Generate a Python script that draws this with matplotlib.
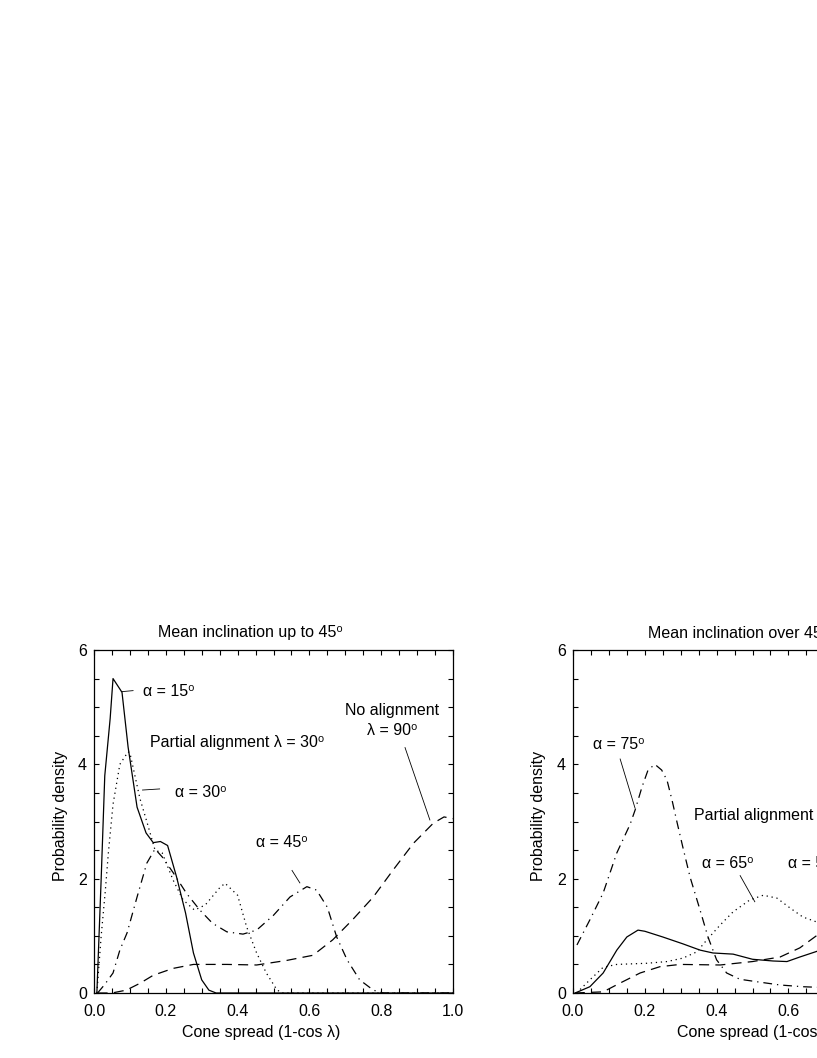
import matplotlib
matplotlib.use("Agg")
import matplotlib.pyplot as plt
from matplotlib.ticker import MultipleLocator

plt.rcParams['font.family'] = ['Liberation Sans', 'DejaVu Sans']
FS = 11.5

# ---------------- data: left panel (mean inclination up to 45) ----------------
L_a15_x = [0.008, 0.02, 0.03, 0.045, 0.053, 0.078, 0.095, 0.12, 0.145, 0.165, 0.185,
           0.205, 0.23, 0.255, 0.277, 0.30, 0.32, 0.34, 1.0]
L_a15_y = [0.0, 2.0, 3.8, 4.8, 5.5, 5.26, 4.3, 3.25, 2.8, 2.63, 2.65,
           2.58, 2.03, 1.4, 0.7, 0.23, 0.05, 0.0, 0.0]

L_a30_x = [0.008, 0.02, 0.031, 0.04, 0.053, 0.072, 0.095, 0.10, 0.128, 0.147, 0.17,
           0.19, 0.22, 0.248, 0.28, 0.31, 0.35, 0.365, 0.40, 0.425, 0.453, 0.48,
           0.51, 0.527, 1.0]
L_a30_y = [0.0, 1.0, 1.75, 2.45, 3.3, 4.0, 4.22, 4.2, 3.4, 3.0, 2.5,
           2.45, 1.98, 1.63, 1.45, 1.54, 1.84, 1.92, 1.71, 1.16, 0.7, 0.35,
           0.05, 0.0, 0.0]

L_a45_x = [0.01, 0.03, 0.053, 0.072, 0.092, 0.12, 0.147, 0.17, 0.19, 0.22, 0.258,
           0.295, 0.33, 0.37, 0.415, 0.453, 0.50, 0.546, 0.593, 0.62, 0.65, 0.676,
           0.705, 0.74, 0.778, 0.805, 1.0]
L_a45_y = [0.0, 0.15, 0.35, 0.75, 1.05, 1.68, 2.27, 2.52, 2.38, 2.11, 1.74,
           1.45, 1.22, 1.07, 1.03, 1.1, 1.36, 1.68, 1.86, 1.80, 1.5, 0.98,
           0.58, 0.23, 0.05, 0.0, 0.0]

L_none_x = [0.01, 0.05, 0.09, 0.128, 0.165, 0.22, 0.277, 0.37, 0.453, 0.537, 0.61,
            0.665, 0.72, 0.778, 0.833, 0.89, 0.945, 0.975, 1.0]
L_none_y = [0.0, 0.0, 0.05, 0.17, 0.31, 0.43, 0.5, 0.5, 0.49, 0.57, 0.66,
            0.93, 1.28, 1.68, 2.15, 2.62, 2.97, 3.08, 3.05]

# ---------------- data: right panel (mean inclination over 45) ----------------
R_a75_x = [0.011, 0.047, 0.084, 0.122, 0.159, 0.173, 0.192, 0.209, 0.228, 0.247,
           0.262, 0.276, 0.29, 0.306, 0.326, 0.354, 0.376, 0.40, 0.428, 0.465,
           0.52, 0.577, 0.64, 0.68, 0.80, 1.0]
R_a75_y = [0.84, 1.28, 1.75, 2.45, 2.95, 3.2, 3.6, 3.9, 4.0, 3.9,
           3.72, 3.37, 2.98, 2.55, 2.03, 1.45, 0.98, 0.58, 0.35, 0.24,
           0.19, 0.14, 0.11, 0.10, 0.07, 0.03]

R_sol_x = [0.006, 0.047, 0.084, 0.122, 0.15, 0.181, 0.20, 0.25, 0.306, 0.354, 0.39,
           0.446, 0.50, 0.557, 0.596, 0.632, 0.68, 0.75, 0.85, 1.0]
R_sol_y = [0.0, 0.11, 0.35, 0.75, 0.98, 1.1, 1.08, 0.98, 0.86, 0.75, 0.7,
           0.68, 0.59, 0.56, 0.55, 0.63, 0.73, 0.95, 1.1, 1.0]

R_a65_x = [0.01, 0.047, 0.084, 0.122, 0.206, 0.262, 0.306, 0.345, 0.373, 0.41,
           0.446, 0.493, 0.53, 0.568, 0.604, 0.64, 0.68, 0.75, 0.85, 0.95, 1.0]
R_a65_y = [0.0, 0.23, 0.45, 0.5, 0.52, 0.55, 0.61, 0.72, 0.93, 1.19,
           1.42, 1.63, 1.71, 1.66, 1.49, 1.33, 1.24, 1.1, 0.6, 0.15, 0.0]

R_none_x = [0.005, 0.084, 0.13, 0.187, 0.242, 0.298, 0.41, 0.50, 0.577, 0.632,
            0.68, 0.72, 0.778, 0.833, 0.89, 0.945, 0.975, 1.0]
R_none_y = [0.0, 0.02, 0.17, 0.35, 0.46, 0.5, 0.49, 0.55, 0.63, 0.79,
            1.01, 1.28, 1.68, 2.15, 2.62, 2.97, 3.08, 3.05]

x_ticks = [0.0, 0.2, 0.4, 0.6, 0.8, 1.0]
x_ticklabels = ["0.0", "0.2", "0.4", "0.6", "0.8", "1.0"]
y_ticks = [0, 2, 4, 6]
y_ticklabels = ["0", "2", "4", "6"]

# ---------------- figure ----------------
W, H = 817, 1058
fig = plt.figure(figsize=(W / 100, H / 100), dpi=100)


def px_axes(x0, y0, x1, y1):
    return fig.add_axes([x0 / W, 1 - y1 / H, (x1 - x0) / W, (y1 - y0) / H])


def ftext(x, y, s, **kw):
    fig.text(x / W, 1 - y / H, s, fontsize=FS, **kw)


LW = 0.9
styles = {
    'solid': dict(linestyle='-'),
    'dot': dict(linestyle=(0, (1, 3))),
    'dashdot': dict(linestyle=(0, (7, 4, 1, 4))),
    'dash': dict(linestyle=(0, (8, 5))),
}


def setup(ax):
    ax.set_xlim(0, 1.0)
    ax.set_ylim(0, 6)
    ax.set_xticks(x_ticks)
    ax.set_xticklabels(x_ticklabels)
    ax.set_yticks(y_ticks)
    ax.set_yticklabels(y_ticklabels)
    ax.xaxis.set_minor_locator(MultipleLocator(0.05))
    ax.yaxis.set_minor_locator(MultipleLocator(0.5))
    ax.tick_params(which='both', direction='in', top=True, right=True,
                   length=3.5, width=0.8, labelsize=FS)
    ax.tick_params(axis='x', pad=8)
    ax.tick_params(axis='y', pad=5)
    for s in ax.spines.values():
        s.set_linewidth(0.9)


def annot_line(ax, x0, y0, x1, y1):
    ax.plot([x0, x1], [y0, y1], color='black', lw=0.6, solid_capstyle='butt')


# left panel
axL = px_axes(94, 650, 453, 993)
setup(axL)
axL.plot(L_a15_x, L_a15_y, color='black', lw=LW, **styles['solid'])
axL.plot(L_a30_x, L_a30_y, color='black', lw=LW, **styles['dot'])
axL.plot(L_a45_x, L_a45_y, color='black', lw=LW, **styles['dashdot'])
axL.plot(L_none_x, L_none_y, color='black', lw=LW, **styles['dash'])
axL.text(0.136, 5.28, "α = 15⁰", fontsize=FS, va='center', ha='left')
annot_line(axL, 0.075, 5.27, 0.11, 5.29)
axL.text(0.156, 4.39, "Partial alignment λ = 30⁰", fontsize=FS, va='center', ha='left')
axL.text(0.226, 3.5, "α = 30⁰", fontsize=FS, va='center', ha='left')
annot_line(axL, 0.134, 3.55, 0.184, 3.57)
axL.text(0.83, 4.95, "No alignment", fontsize=FS, va='center', ha='center')
axL.text(0.83, 4.6, "λ = 90⁰", fontsize=FS, va='center', ha='center')
annot_line(axL, 0.866, 4.3, 0.936, 3.02)
axL.text(0.524, 2.64, "α = 45⁰", fontsize=FS, va='center', ha='center')
annot_line(axL, 0.551, 2.15, 0.574, 1.92)

ftext(158, 633, "Mean inclination up to 45⁰", ha='left', va='center')
ftext(261, 1033, "Cone spread (1-cos λ)", ha='center', va='center')
ftext(60, 816, "Probability density", ha='center', va='center', rotation=90)

# right panel (extends beyond the figure's right edge, as in the reference)
axR = px_axes(573, 650, 932, 993)
setup(axR)
axR.plot(R_sol_x, R_sol_y, color='black', lw=LW, **styles['solid'])
axR.plot(R_a65_x, R_a65_y, color='black', lw=LW, **styles['dot'])
axR.plot(R_a75_x, R_a75_y, color='black', lw=LW, **styles['dashdot'])
axR.plot(R_none_x, R_none_y, color='black', lw=LW, **styles['dash'])
axR.text(0.055, 4.35, "α = 75⁰", fontsize=FS, va='center', ha='left')
annot_line(axR, 0.131, 4.1, 0.173, 3.23)
axR.text(0.337, 3.11, "Partial alignment λ = 30⁰", fontsize=FS, va='center', ha='left')
axR.text(0.36, 2.27, "α = 65⁰", fontsize=FS, va='center', ha='left')
annot_line(axR, 0.465, 2.06, 0.507, 1.59)
axR.text(0.599, 2.27, "α = 55⁰", fontsize=FS, va='center', ha='left')

ftext(648, 633, "Mean inclination over 45⁰", ha='left', va='center')
ftext(677, 1033, "Cone spread (1-cos λ)", ha='left', va='center')
ftext(539, 816, "Probability density", ha='center', va='center', rotation=90)

fig.savefig("out.png", dpi=100)
